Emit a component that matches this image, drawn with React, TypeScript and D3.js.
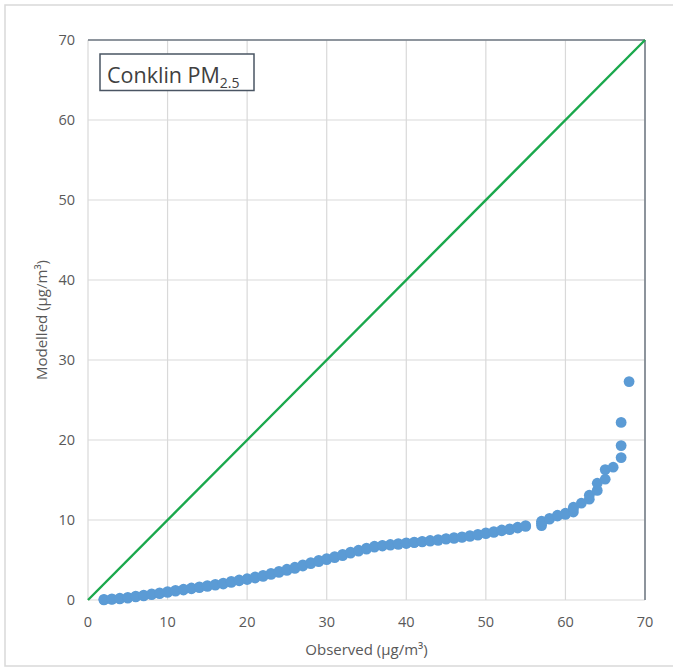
import React, { useEffect } from "react";
import * as d3 from "d3";

const observed = [
  2, 2, 3, 3, 4, 4, 5, 5, 6, 6, 7, 7, 8, 8, 9, 9, 10, 10, 11, 11, 12, 12, 13, 13,
  14, 14, 15, 15, 16, 16, 17, 17, 18, 18, 19, 19, 20, 20, 21, 21, 22, 22, 23, 23,
  24, 24, 25, 25, 26, 26, 27, 27, 28, 28, 29, 29, 30, 30, 31, 31, 32, 32, 33, 33,
  34, 34, 35, 35, 36, 36, 37, 37, 38, 38, 39, 39, 40, 40, 41, 41, 42, 42, 43, 43,
  44, 44, 45, 45, 46, 46, 47, 47, 48, 48, 49, 49, 50, 50, 51, 51, 52, 52, 53, 53,
  54, 54, 55, 55,
  57, 57, 57, 58, 58, 59, 59, 60, 60, 61, 61, 61, 62, 63, 63, 64, 64, 65, 65, 66,
  67, 67, 67, 68,
];
const modelled = [
  0.02, 0.08, 0.08, 0.14, 0.14, 0.22, 0.24, 0.34, 0.38, 0.48, 0.52, 0.62, 0.66, 0.76,
  0.8, 0.9, 0.95, 1.05, 1.1, 1.2, 1.25, 1.35, 1.4, 1.5, 1.55, 1.65, 1.7, 1.8, 1.85,
  1.95, 2.0, 2.12, 2.2, 2.32, 2.4, 2.5, 2.56, 2.66, 2.75, 2.88, 2.95, 3.08, 3.2, 3.32,
  3.45, 3.58, 3.7, 3.85, 3.95, 4.1, 4.25, 4.4, 4.55, 4.68, 4.8, 4.95, 5.05, 5.18,
  5.3, 5.42, 5.55, 5.7, 5.85, 5.98, 6.1, 6.22, 6.35, 6.48, 6.6, 6.72, 6.75, 6.84,
  6.86, 6.94, 6.96, 7.04, 7.06, 7.14, 7.16, 7.24, 7.26, 7.34, 7.36, 7.44, 7.46, 7.55,
  7.6, 7.68, 7.7, 7.8, 7.82, 7.9, 7.95, 8.05, 8.1, 8.2, 8.3, 8.4, 8.45, 8.55, 8.65,
  8.75, 8.8, 8.9, 9.0, 9.1, 9.2, 9.3,
  9.3, 9.6, 9.85, 10.1, 10.2, 10.5, 10.6, 10.7, 10.85, 11.0, 11.4, 11.6, 12.1, 12.6,
  13.1, 13.7, 14.6, 15.1, 16.3, 16.6, 17.8, 19.3, 22.2, 27.3,
];
const xTicks = [0, 10, 20, 30, 40, 50, 60, 70];
const yTicks = [0, 10, 20, 30, 40, 50, 60, 70];
const oneToOne = [0, 70];

const W = 673;
const H = 671;
const margin = { top: 40, right: 28, bottom: 71, left: 88 };
const font = "'Open Sans', 'Liberation Sans', sans-serif";
const textGray = "#595959";

export default function App() {
  useEffect(() => {
    document.body.style.margin = "0";
  }, []);

  const x = d3.scaleLinear().domain([0, 70]).range([margin.left, W - margin.right]);
  const y = d3.scaleLinear().domain([0, 70]).range([H - margin.bottom, margin.top]);
  const [x0, x1] = x.range();
  const [y0, y1] = y.range();

  const line = d3
    .line<number>()
    .x((d) => x(d))
    .y((d) => y(d));

  return (
    <svg width={W} height={H} style={{ display: "block", fontFamily: font }}>
      <rect x={0} y={0} width={W} height={H} fill="#fff" />
      <rect x={5} y={5} width={W + 10} height={H - 10} fill="none" stroke="#d9d9d9" strokeWidth={1.5} />

      {/* grid */}
      {xTicks.map((t) => (
        <line key={"gx" + t} x1={x(t)} x2={x(t)} y1={y1} y2={y0} stroke="#d9d9d9" strokeWidth={1.2} />
      ))}
      {yTicks.map((t) => (
        <line key={"gy" + t} x1={x0} x2={x1} y1={y(t)} y2={y(t)} stroke="#d9d9d9" strokeWidth={1.2} />
      ))}

      {/* top and right frame are darker */}
      <line x1={x0} x2={x1} y1={y1} y2={y1} stroke="#6f7883" strokeWidth={1.5} />
      <line x1={x1} x2={x1} y1={y1} y2={y0} stroke="#6f7883" strokeWidth={1.5} />

      {/* tick labels */}
      {xTicks.map((t) => (
        <text key={"tx" + t} x={x(t)} y={627} textAnchor="middle" fontSize={14.5} fill={textGray}>
          {t}
        </text>
      ))}
      {yTicks.map((t) => (
        <text key={"ty" + t} x={75} y={y(t) + 5} textAnchor="end" fontSize={14.5} fill={textGray}>
          {t}
        </text>
      ))}

      {/* 1:1 line */}
      <path d={line(oneToOne) ?? ""} fill="none" stroke="#1aa84c" strokeWidth={2.4} />

      {/* points */}
      {observed.map((o, i) => (
        <circle key={i} cx={x(o)} cy={y(modelled[i])} r={5.4} fill="#5b9bd5" />
      ))}

      {/* axis titles */}
      <text x={(x0 + x1) / 2} y={655} textAnchor="middle" fontSize={15} fill={textGray}>
        Observed (µg/m³)
      </text>
      <text
        transform={`translate(47,${(y0 + y1) / 2}) rotate(-90)`}
        textAnchor="middle"
        fontSize={15}
        fill={textGray}
      >
        Modelled (µg/m³)
      </text>

      {/* label box */}
      <rect x={100} y={54} width={154} height={36.5} fill="#fff" stroke="#4a5563" strokeWidth={1.5} />
      <text x={107} y={83} fontSize={21.5} fill="#404040">
        Conklin PM
        <tspan fontSize={14} dy={5}>2.5</tspan>
      </text>
    </svg>
  );
}
